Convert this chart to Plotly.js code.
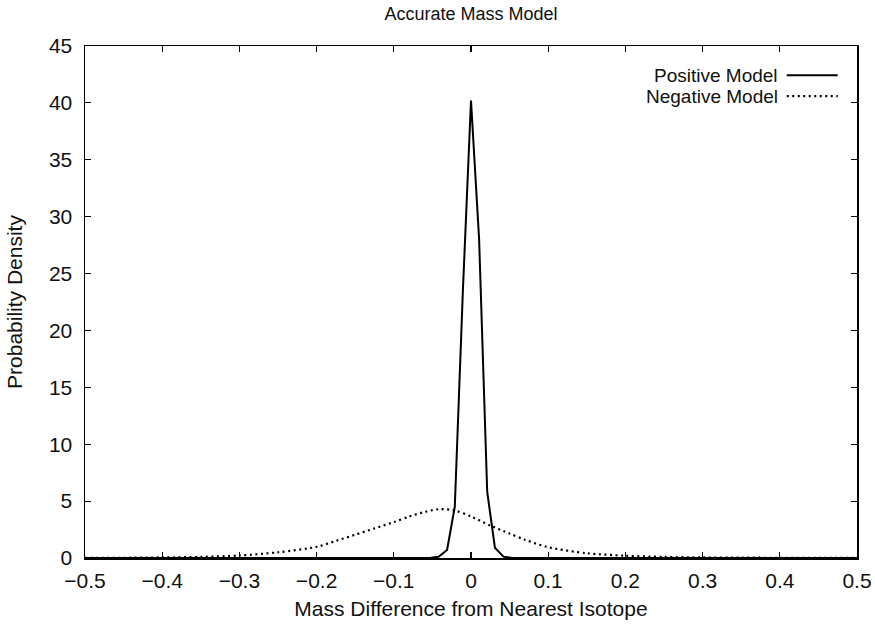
<!DOCTYPE html>
<html>
<head>
<meta charset="utf-8">
<script src="https://cdn.plot.ly/plotly-3.0.1.min.js"></script>
<style>html,body{margin:0;padding:0;background:#fff;}#chart{width:875px;height:631px;}</style>
</head>
<body>
<div id="chart"></div>
<script>
// Positive model (solid)
const posX = [-0.5, -0.3, -0.1, -0.063, -0.052, -0.042, -0.031, -0.021, -0.0105, 0.0, 0.0105, 0.021, 0.031, 0.042, 0.052, 0.063, 0.1, 0.3, 0.5];
const posY = [0, 0, 0, 0.0, 0.02, 0.1, 0.7, 4.5, 23.5, 40.2, 28.0, 5.8, 0.9, 0.12, 0.02, 0.0, 0, 0, 0];
// Negative model (dotted)
const negX = [-0.5, -0.45, -0.4, -0.35, -0.3, -0.25, -0.2, -0.175, -0.15, -0.125, -0.1, -0.08, -0.06, -0.04, -0.02, 0.0, 0.025, 0.05, 0.07, 0.1, 0.15, 0.2, 0.25, 0.3, 0.35, 0.4, 0.45, 0.5];
const negY = [0.01, 0.02, 0.05, 0.1, 0.22, 0.5, 0.98, 1.5, 2.05, 2.6, 3.15, 3.65, 4.05, 4.3, 4.15, 3.65, 2.85, 2.15, 1.6, 0.95, 0.42, 0.2, 0.1, 0.05, 0.03, 0.02, 0.01, 0.01];
const xTicks = [-0.5, -0.4, -0.3, -0.2, -0.1, 0, 0.1, 0.2, 0.3, 0.4, 0.5];
const yTicks = [0, 5, 10, 15, 20, 25, 30, 35, 40, 45];
const legendNames = ["Positive Model", "Negative Model"];

const font = "Liberation Sans, Arial, sans-serif";
const traces = [
  {x: posX, y: posY, type: 'scatter', mode: 'lines', name: legendNames[0],
   line: {color: '#000', width: 2}},
  {x: negX, y: negY, type: 'scatter', mode: 'lines', name: legendNames[1], line: {color: '#000', width: 2.2, dash: '2px,3.5px', shape: 'spline', smoothing: 0.8}}
];
const axisCommon = {showgrid: false, zeroline: false, showline: true, linecolor: '#000', linewidth: 1.5,
  mirror: 'ticks', ticks: 'inside', ticklen: 6, tickwidth: 1.2, tickcolor: '#000',
  tickfont: {family: font, size: 21, color: '#111'}};
const layout = {
  width: 875, height: 631,
  margin: {l: 85, r: 18, t: 46, b: 73},
  paper_bgcolor: '#fff', plot_bgcolor: '#fff',
  showlegend: false,
  title: {text: 'Accurate Mass Model', font: {family: font, size: 18, color: '#111'}, xref: 'paper', x: 0.5, xanchor: 'center', yref: 'container', y: 0.978, yanchor: 'middle'},
  xaxis: Object.assign({}, axisCommon, {range: [-0.5, 0.5], tickvals: xTicks, ticklabelstandoff: 3,
    ticktext: xTicks.map(v => v === 0 ? '0' : (v < 0 ? '\u2212' + Math.abs(v).toFixed(1) : v.toFixed(1))),
    title: {text: 'Mass Difference from Nearest Isotope', font: {family: font, size: 21, color: '#111'}, standoff: 10}}),
  yaxis: Object.assign({}, axisCommon, {range: [0, 45], tickvals: yTicks, ticklabelstandoff: 7,
    title: {text: 'Probability Density', font: {family: font, size: 21, color: '#111'}, standoff: 20}}),
  annotations: [
    {text: legendNames[0], xref: 'paper', yref: 'paper', x: 0.9, y: 0.943, xanchor: 'right', yanchor: 'middle', showarrow: false, font: {family: font, size: 19, color: '#111'}},
    {text: legendNames[1], xref: 'paper', yref: 'paper', x: 0.9, y: 0.902, xanchor: 'right', yanchor: 'middle', showarrow: false, font: {family: font, size: 19, color: '#111'}}
  ],
  shapes: [
    {type: 'line', xref: 'paper', yref: 'paper', x0: 0.909, x1: 0.975, y0: 0.943, y1: 0.943, line: {color: '#000', width: 2}},
    {type: 'line', xref: 'paper', yref: 'paper', x0: 0.909, x1: 0.975, y0: 0.902, y1: 0.902, line: {color: '#000', width: 2.2, dash: '2px,3.5px'}}
  ]
};
Plotly.newPlot('chart', traces, layout, {staticPlot: true, displayModeBar: false});
</script>
</body>
</html>
